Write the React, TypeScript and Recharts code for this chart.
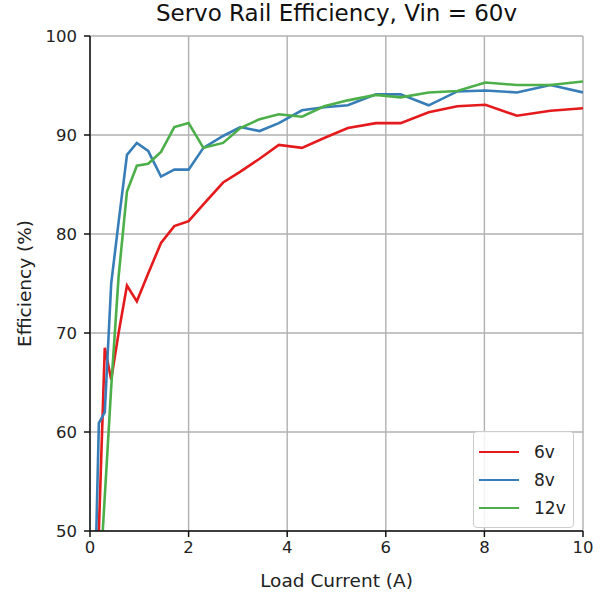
import React from 'react';
import {
  CartesianGrid,
  Legend,
  Line,
  LineChart,
  XAxis,
  YAxis,
} from 'recharts';

// load current (A) and efficiency (%) per servo rail voltage
const loadCurrent = [
  0.1, 0.18, 0.3, 0.43, 0.58, 0.75, 0.95, 1.18, 1.44, 1.71, 2.0, 2.3, 2.7,
  3.05, 3.44, 3.83, 4.3, 4.75, 5.23, 5.8, 6.3, 6.87, 7.45, 8.02, 8.66, 9.34, 10,
];
const eff6v = [
  37.5, 50, 68.5, 65.3, 70, 74.8, 73.2, 76, 79.1, 80.8, 81.3, 83, 85.2, 86.3,
  87.6, 89, 88.7, 89.7, 90.7, 91.2, 91.2, 92.3, 92.9, 93.05, 91.95, 92.45, 92.7,
];
const eff8v = [
  44, 60.9, 62, 75, 81.2, 88, 89.2, 88.4, 85.8, 86.5, 86.5, 88.7, 89.9, 90.8,
  90.4, 91.2, 92.5, 92.8, 93, 94.1, 94.1, 93, 94.4, 94.5, 94.3, 95.05, 94.3,
];
const eff12v = [
  36.5, 43.4, 53.5, 64.5, 75.7, 84.3, 86.9, 87.1, 88.3, 90.8, 91.2, 88.7, 89.2,
  90.7, 91.6, 92.1, 91.85, 92.9, 93.5, 94.05, 93.8, 94.3, 94.45, 95.3, 95.05,
  95.05, 95.4,
];
const xTicks = [0, 2, 4, 6, 8, 10];
const yTicks = [50, 60, 70, 80, 90, 100];

const series = [
  { key: 'v6', name: '6v', color: '#e41a1c' },
  { key: 'v8', name: '8v', color: '#377eb8' },
  { key: 'v12', name: '12v', color: '#4daf4a' },
];

const data = loadCurrent.map((x, i) => ({
  x,
  v6: eff6v[i],
  v8: eff8v[i],
  v12: eff12v[i],
}));

const FONT = 'DejaVu Sans, sans-serif';

const LegendBox = () => (
  <div
    style={{
      background: 'rgba(255,255,255,0.85)',
      border: '1px solid #cccccc',
      borderRadius: 4,
      padding: '6px 0 5px 5px',
      fontFamily: FONT,
      fontSize: 17,
      color: '#222',
    }}
  >
    {series.map((s) => (
      <div
        key={s.key}
        style={{ display: 'flex', alignItems: 'center', height: 28 }}
      >
        <div style={{ width: 40, height: 2.6, background: s.color }} />
        <span style={{ marginLeft: 15 }}>{s.name}</span>
      </div>
    ))}
  </div>
);

const App = () => {
  return (
    <div
      style={{
        position: 'absolute',
        left: 0,
        top: 0,
        width: 604,
        height: 592,
        background: '#fff',
      }}
    >
      <div
        style={{
          position: 'absolute',
          left: 90,
          width: 493,
          top: 0,
          textAlign: 'center',
          fontFamily: FONT,
          fontSize: 23,
          color: '#111',
        }}
      >
        Servo Rail Efficiency, Vin = 60v
      </div>
      <LineChart
        width={604}
        height={592}
        data={data}
        margin={{ top: 36, right: 21, bottom: 0, left: 0 }}
      >
        <CartesianGrid stroke='#b0b0b0' strokeWidth={1.4} />
        <XAxis
          dataKey='x'
          type='number'
          domain={[0, 10]}
          ticks={xTicks}
          allowDataOverflow
          height={61}
          tickSize={6}
          tickMargin={4}
          stroke='#111'
          strokeWidth={1.5}
          tick={{ fill: '#222', fontSize: 16.5, fontFamily: FONT }}
          label={{
            value: 'Load Current (A)',
            position: 'insideBottom',
            offset: 5,
            style: { fill: '#222', fontSize: 18.5, fontFamily: FONT },
          }}
        />
        <XAxis
          xAxisId='top'
          orientation='top'
          dataKey='x'
          type='number'
          domain={[0, 10]}
          height={0}
          tick={false}
          tickLine={false}
          stroke='#111'
          strokeWidth={1.5}
        />
        <YAxis
          domain={[50, 100]}
          ticks={yTicks}
          allowDataOverflow
          width={90}
          tickSize={6}
          tickMargin={7}
          stroke='#111'
          strokeWidth={1.5}
          tick={{ fill: '#222', fontSize: 16.5, fontFamily: FONT }}
          label={{
            value: 'Efficiency (%)',
            angle: -90,
            position: 'insideLeft',
            offset: 24,
            style: {
              fill: '#222',
              fontSize: 18.5,
              fontFamily: FONT,
              textAnchor: 'middle',
            },
          }}
        />
        <YAxis
          yAxisId='right'
          orientation='right'
          domain={[50, 100]}
          width={0}
          tick={false}
          tickLine={false}
          stroke='#111'
          strokeWidth={1.5}
        />
        {series.map((s) => (
          <Line
            key={s.key}
            type='linear'
            dataKey={s.key}
            name={s.name}
            stroke={s.color}
            strokeWidth={2.6}
            dot={false}
            isAnimationActive={false}
          />
        ))}
        <Legend
          layout='horizontal'
          verticalAlign='middle'
          align='center'
          content={<LegendBox />}
          wrapperStyle={{ left: 473, top: 431, width: 101 }}
        />
      </LineChart>
    </div>
  );
};

export default App;
